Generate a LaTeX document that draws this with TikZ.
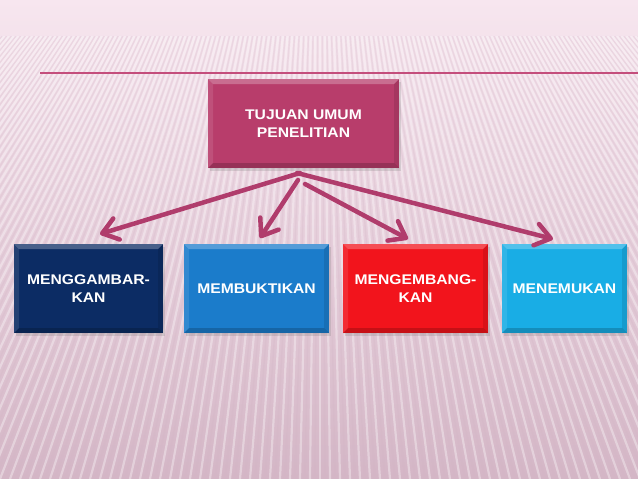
\documentclass[tikz,border=0pt]{standalone}
\usepackage{fontspec}
\setmainfont{Liberation Sans}
\newfontfamily\boxfont{Liberation Sans}[FakeStretch=1.12]
\usetikzlibrary{arrows.meta,shadows}
\definecolor{bgtop}{HTML}{F7E6EF}
\definecolor{bgmid}{HTML}{EFDCE6}
\definecolor{bgbot}{HTML}{D4B6C6}
\definecolor{rulec}{HTML}{C44E7C}
\definecolor{topc}{HTML}{B83D6B}
\definecolor{navyc}{HTML}{0C2C64}
\definecolor{bluec}{HTML}{1B7CCB}
\definecolor{redc}{HTML}{F2141C}
\definecolor{cyanc}{HTML}{19ADE5}
\definecolor{arrc}{HTML}{B03C6C}
\newcommand\bevelpic{%
  \fill[white,opacity=.25] (path picture bounding box.north west) -- (path picture bounding box.north east) -- ([shift={(-5,5)}]path picture bounding box.north east) -- ([shift={(5,5)}]path picture bounding box.north west) -- cycle;
  \fill[white,opacity=.10] (path picture bounding box.north west) -- ([shift={(5,5)}]path picture bounding box.north west) -- ([shift={(5,-5)}]path picture bounding box.south west) -- (path picture bounding box.south west) -- cycle;
  \fill[black,opacity=.10] (path picture bounding box.north east) -- ([shift={(-5,5)}]path picture bounding box.north east) -- ([shift={(-5,-5)}]path picture bounding box.south east) -- (path picture bounding box.south east) -- cycle;
  \fill[black,opacity=.18] (path picture bounding box.south west) -- (path picture bounding box.south east) -- ([shift={(-5,-5)}]path picture bounding box.south east) -- ([shift={(5,-5)}]path picture bounding box.south west) -- cycle;
}
\tikzset{
  boxnode/.style={draw=none, fill=#1, text=white, align=center, inner sep=0pt,
    minimum height=89pt, font=\boxfont\bfseries\fontsize{14}{18}\selectfont,
    drop shadow={shadow xshift=2pt, shadow yshift=-3pt, opacity=.25},
    path picture={\bevelpic}},
  conn/.style={draw=arrc, line width=4.5pt, line cap=round, line join=round,
    -{Straight Barb[round,length=15pt,width=22pt]}},
  stripe/.style={white, opacity=.35, line width=2.2pt},
  dstripe/.style={bgbot, opacity=.25, line width=1.4pt}
}
\begin{document}
\begin{tikzpicture}[x=1pt,y=-1pt]
\useasboundingbox (0,0) rectangle (638,479);
% background
\shade[top color=bgtop, middle color=bgmid, bottom color=bgbot] (0,0) rectangle (638,479);
\begin{scope}
\clip (0,36) rectangle (638,479);
\foreach \X in {-380,-370,...,1010}{
  \pgfmathsetmacro\xt{320+(\X-320)*0.464}
  \draw[stripe] (\xt,36) -- (\X,479);
  \pgfmathsetmacro\xtb{320+(\X+5-320)*0.464}
  \draw[dstripe] (\xtb,36) -- (\X+5,479);
}
\end{scope}
\draw[rulec, line width=1.1pt] (40,73) -- (638,73);
% nodes
\node[boxnode=topc, minimum width=191pt] (t) at (303.5,123.5) {TUJUAN UMUM\\PENELITIAN};
\node[boxnode=navyc, minimum width=149pt] (b1) at (88.5,288.5) {MENGGAMBAR-\\KAN};
\node[boxnode=bluec, minimum width=145pt] (b2) at (256.5,288.5) {MEMBUKTIKAN};
\node[boxnode=redc, minimum width=145pt] (b3) at (415.5,288.5) {MENGEMBANG-\\KAN};
\node[boxnode=cyanc, minimum width=125pt] (b4) at (564.5,288.5) {MENEMUKAN};
% connectors
\coordinate (s1) at (300,173);
\coordinate (e1) at (100,234);
\coordinate (s2) at (298,180);
\coordinate (e2) at (260,238);
\coordinate (s3) at (305,184);
\coordinate (e3) at (408,239);
\coordinate (s4) at (297,173);
\coordinate (e4) at (553,239);
\draw[conn] (s1) -- (e1);
\draw[conn] (s2) -- (e2);
\draw[conn] (s3) -- (e3);
\draw[conn] (s4) -- (e4);
\end{tikzpicture}
\end{document}
